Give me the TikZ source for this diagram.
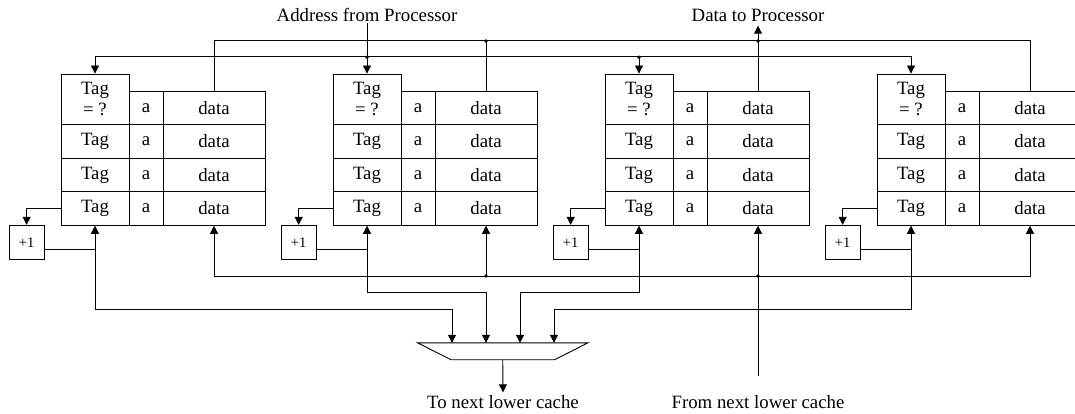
\documentclass[tikz,border=0pt]{standalone}
\usepackage{fontspec}
\setmainfont{Liberation Serif}
\usetikzlibrary{arrows.meta}
\begin{document}
\begin{tikzpicture}[x=1pt,y=-1pt,line width=0.9pt,
  cell/.style={draw, inner sep=0pt, minimum height=33.5pt, font=\fontsize{18.8}{21}\selectfont},
  tagc/.style={cell, minimum width=68pt},
  ac/.style={cell, minimum width=34pt},
  dc/.style={cell, minimum width=102pt},
  plus/.style={draw, inner sep=0pt, minimum width=34.7pt, minimum height=34pt, font=\fontsize{14.5}{16}\selectfont},
  lbl/.style={inner sep=0pt, font=\fontsize{18.8}{21}\selectfont},
  arr/.style={-{Triangle[length=8pt,width=8pt]}},
  dbl/.style={{Triangle[length=8pt,width=8pt]}-{Triangle[length=8pt,width=8pt]}},
  jdot/.style={circle, fill=black, draw=none, inner sep=0pt, minimum size=3.8pt}]
\useasboundingbox (0,0) rectangle (1075,414);
\clip (0,0) rectangle (1075,414);

\foreach \i/\L in {1/61,2/333,3/605,4/877}{
  \node[tagc, minimum height=50.8pt, align=center] (t\i-1) at (\L+34,99.4) {Tag\\= ?};
  \node[ac, minimum height=33.8pt] (a\i-1) at (\L+85,107.9) {a};
  \node[dc, minimum height=33.8pt] (d\i-1) at (\L+153,107.9) {data};
  \foreach \r in {2,3,4}{
    \pgfmathsetmacro\yc{124.8+33.5*(\r-2)+16.75}
    \node[tagc] (t\i-\r) at (\L+34,\yc) {Tag};
    \node[ac] (a\i-\r) at (\L+85,\yc) {a};
    \node[dc] (d\i-\r) at (\L+153,\yc) {data};
  }
  \node[plus] (p\i) at (\L-34.35,242.3) {+1};
  \draw[arr] (t\i-4.west) -| (p\i.north);
  \draw ([yshift=-6.7pt]p\i.east) -- ([yshift=-6.7pt]p\i.east -| t\i-4.south);
}

% labels
\node[lbl, anchor=base] (addr) at (367,21.5) {Address from Processor};
\node[lbl, anchor=base] (dproc) at (758,21.5) {Data to Processor};
\node[lbl, anchor=base] (tolow) at (503,408.3) {To next lower cache};
\node[lbl, anchor=base] (fromlow) at (758,408.3) {From next lower cache};

% multiplexer
\node[inner sep=0pt, minimum width=169.5pt, minimum height=16pt] (mux) at (502.75,351.3) {};
\draw (mux.north west) -- (mux.north east) -- ([xshift=-33.5pt]mux.south east)
  -- ([xshift=33.5pt]mux.south west) -- cycle;

% data bus (top)
\coordinate (dbus2) at (486,41);
\coordinate (dbus3) at (758,41);
\coordinate (dtop) at (758,25.7);
\draw (d1-1.north) -- ++(0,-50) -| (d4-1.north);
\draw (d2-1.north) -- (dbus2);
\draw[arr] (d3-1.north) -- (dtop);
\node[jdot] (jd2) at (dbus2) {};
\node[jdot] (jd3) at (dbus3) {};

% address bus
\coordinate (atop) at (367,23.5);
\coordinate (abus2) at (367,57.3);
\coordinate (abus3) at (639,57.3);
\draw[dbl] (t1-1.north) -- ++(0,-16.7) -| (t4-1.north);
\draw[arr] (atop) -- (t2-1.north);
\draw[arr] (abus3) -- (t3-1.north);
\node[jdot] (ja2) at (abus2) {};
\node[jdot] (ja3) at (abus3) {};

% lower data bus
\coordinate (lb2) at (486,276);
\coordinate (lb3) at (758,276);
\coordinate (fromc) at (758,375.7);
\draw[dbl] (d1-4.south) -- ++(0,50.7) -| (d4-4.south);
\draw[arr] (lb2) -- (d2-4.south);
\draw[arr] (fromc) -- (d3-4.south);
\node[jdot] (jl2) at (lb2) {};
\node[jdot] (jl3) at (lb3) {};

% tags to multiplexer
\coordinate (m1) at ([xshift=-50.75pt]mux.north);
\coordinate (m2) at ([xshift=-16.75pt]mux.north);
\coordinate (m3) at ([xshift=17.25pt]mux.north);
\coordinate (m4) at ([xshift=51.25pt]mux.north);
\draw[dbl] (t1-4.south) -- ++(0,84) -| (m1);
\draw[dbl] (t2-4.south) -- ++(0,67) -| (m2);
\draw[dbl] (t3-4.south) -- ++(0,67) -| (m3);
\draw[dbl] (t4-4.south) -- ++(0,84) -| (m4);

% multiplexer output
\coordinate (mout) at (503,392.3);
\draw[arr] (mux.south) -- (mout);
\end{tikzpicture}
\end{document}
